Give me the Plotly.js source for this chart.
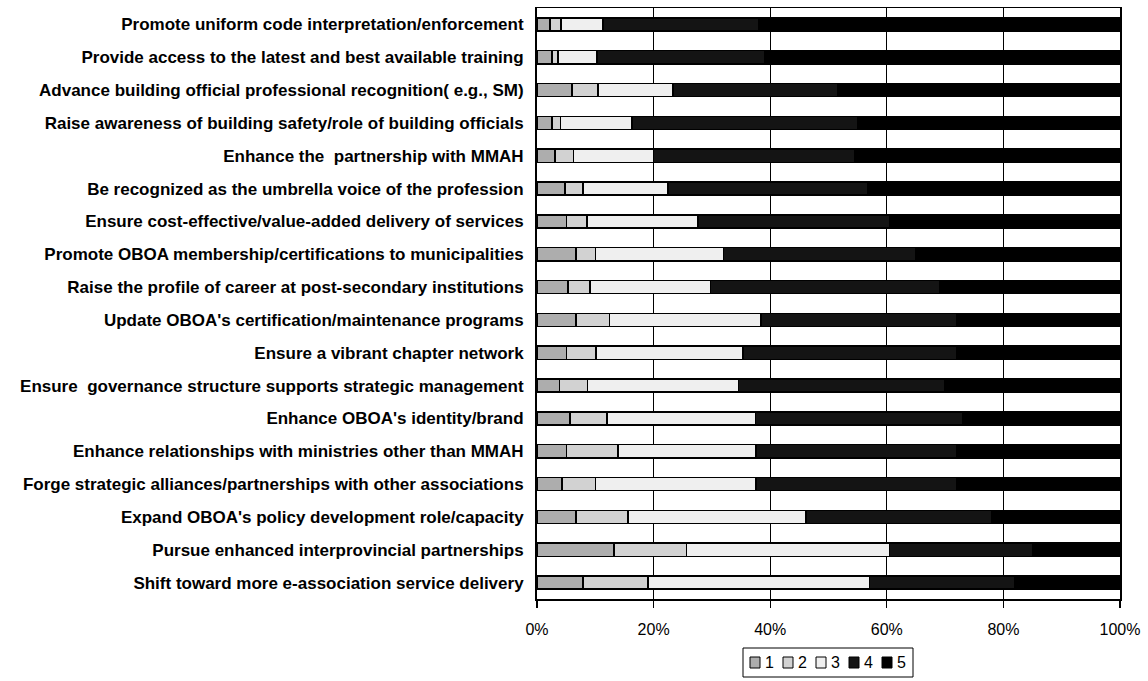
<!DOCTYPE html>
<html>
<head>
<meta charset="utf-8">
<script src="https://cdn.plot.ly/plotly-3.0.1.min.js"></script>
<style>body{margin:0;background:#fff}#chart{width:1148px;height:681px}</style>
</head>
<body>
<div id="chart"></div>
<script>
const categories = [
  "Promote uniform code interpretation/enforcement",
  "Provide access to the latest and best available training",
  "Advance building official professional recognition( e.g., SM)",
  "Raise awareness of building safety/role of building officials",
  "Enhance the  partnership with MMAH",
  "Be recognized as the umbrella voice of the profession",
  "Ensure cost-effective/value-added delivery of services",
  "Promote OBOA membership/certifications to municipalities",
  "Raise the profile of career at post-secondary institutions",
  "Update OBOA's certification/maintenance programs",
  "Ensure a vibrant chapter network",
  "Ensure  governance structure supports strategic management",
  "Enhance OBOA's identity/brand",
  "Enhance relationships with ministries other than MMAH",
  "Forge strategic alliances/partnerships with other associations",
  "Expand OBOA's policy development role/capacity",
  "Pursue enhanced interprovincial partnerships",
  "Shift toward more e-association service delivery"
];
const series1 = [2.2, 2.6, 6.0, 2.6, 3.1, 4.8, 5.1, 6.7, 5.3, 6.7, 5.1, 3.9, 5.7, 5.1, 4.3, 6.7, 13.2, 7.9];
const series2 = [1.9, 1.0, 4.5, 1.4, 3.2, 3.1, 3.5, 3.3, 3.8, 5.7, 5.0, 4.8, 6.3, 8.8, 5.7, 8.9, 12.4, 11.1];
const series3 = [7.2, 6.7, 12.8, 12.3, 13.7, 14.6, 19.0, 22.0, 20.7, 26.0, 25.2, 25.9, 25.5, 23.7, 27.6, 30.5, 34.9, 38.0];
const series4 = [26.7, 28.7, 28.2, 38.7, 34.5, 34.3, 32.9, 33.0, 39.2, 33.6, 36.7, 35.4, 35.5, 34.4, 34.4, 31.9, 24.5, 25.0];
const series5 = [62.0, 61.0, 48.5, 45.0, 45.5, 43.2, 39.5, 35.0, 31.0, 28.0, 28.0, 30.0, 27.0, 28.0, 28.0, 22.0, 15.0, 18.0];
const seriesNames = ["1", "2", "3", "4", "5"];
const tickValues = [0, 20, 40, 60, 80, 100];
const tickLabels = ["0%", "20%", "40%", "60%", "80%", "100%"];
const seriesValues = [series1, series2, series3, series4, series5];
const fills = ["#adadad", "#d2d2d2", "#efefef", "#141414", "#000000"];

const W = 1148, H = 681;
const M = {l: 537, r: 28, t: 8, b: 82};
const PW = W - M.l - M.r, PH = H - M.t - M.b;
const px = x => (x - M.l) / PW;          // pixel -> paper x
const py = y => (H - M.b - y) / PH;      // pixel -> paper y

const traces = seriesValues.map((vals, i) => ({
  type: "bar",
  orientation: "h",
  name: seriesNames[i],
  y: categories,
  x: vals,
  marker: {color: fills[i], line: {color: "#000", width: 1.5}},
  hoverinfo: "skip",
  showlegend: false
}));

// custom compact legend (box + swatches + labels)
const shapes = [{
  type: "rect", xref: "paper", yref: "paper",
  x0: px(743), x1: px(913), y0: py(648), y1: py(677),
  line: {color: "#000", width: 1}, fillcolor: "rgba(0,0,0,0)"
}];
const annotations = [];
seriesNames.forEach((n, i) => {
  const sx = 750 + 33 * i;
  shapes.push({
    type: "rect", xref: "paper", yref: "paper",
    x0: px(sx), x1: px(sx + 10), y0: py(657), y1: py(668),
    line: {color: "#000", width: 1}, fillcolor: fills[i]
  });
  annotations.push({
    xref: "paper", yref: "paper", x: px(sx + 13), y: py(662.5),
    xanchor: "left", yanchor: "middle", text: n, showarrow: false,
    font: {size: 16, color: "#000"}
  });
});

const layout = {
  width: W, height: H,
  margin: {l: M.l, r: M.r, t: M.t, b: M.b, pad: 0},
  barmode: "stack",
  barnorm: "percent",
  bargap: 0.6,
  paper_bgcolor: "#fff",
  plot_bgcolor: "#fff",
  font: {family: "Liberation Sans, Arial, sans-serif", color: "#000", size: 16},
  showlegend: false,
  shapes: shapes,
  annotations: annotations,
  xaxis: {
    range: [0, 100], tickvals: tickValues, ticktext: tickLabels,
    showgrid: true, gridcolor: "#000", gridwidth: 1.2,
    showline: true, linecolor: "#000", linewidth: 1.5, mirror: true,
    ticks: "outside", ticklen: 7, tickcolor: "#000", tickwidth: 1.2,
    tickfont: {size: 16}, ticklabelstandoff: 8, zeroline: false, fixedrange: true
  },
  yaxis: {
    autorange: "reversed", type: "category",
    showline: true, linecolor: "#000", linewidth: 2, mirror: true,
    ticks: "", showgrid: false,
    tickfont: {size: 17, family: "Liberation Sans, Arial, sans-serif", weight: "bold"},
    ticklabelstandoff: 8, fixedrange: true
  }
};

Plotly.newPlot("chart", traces, layout, {displayModeBar: false, staticPlot: true});
</script>
</body>
</html>
